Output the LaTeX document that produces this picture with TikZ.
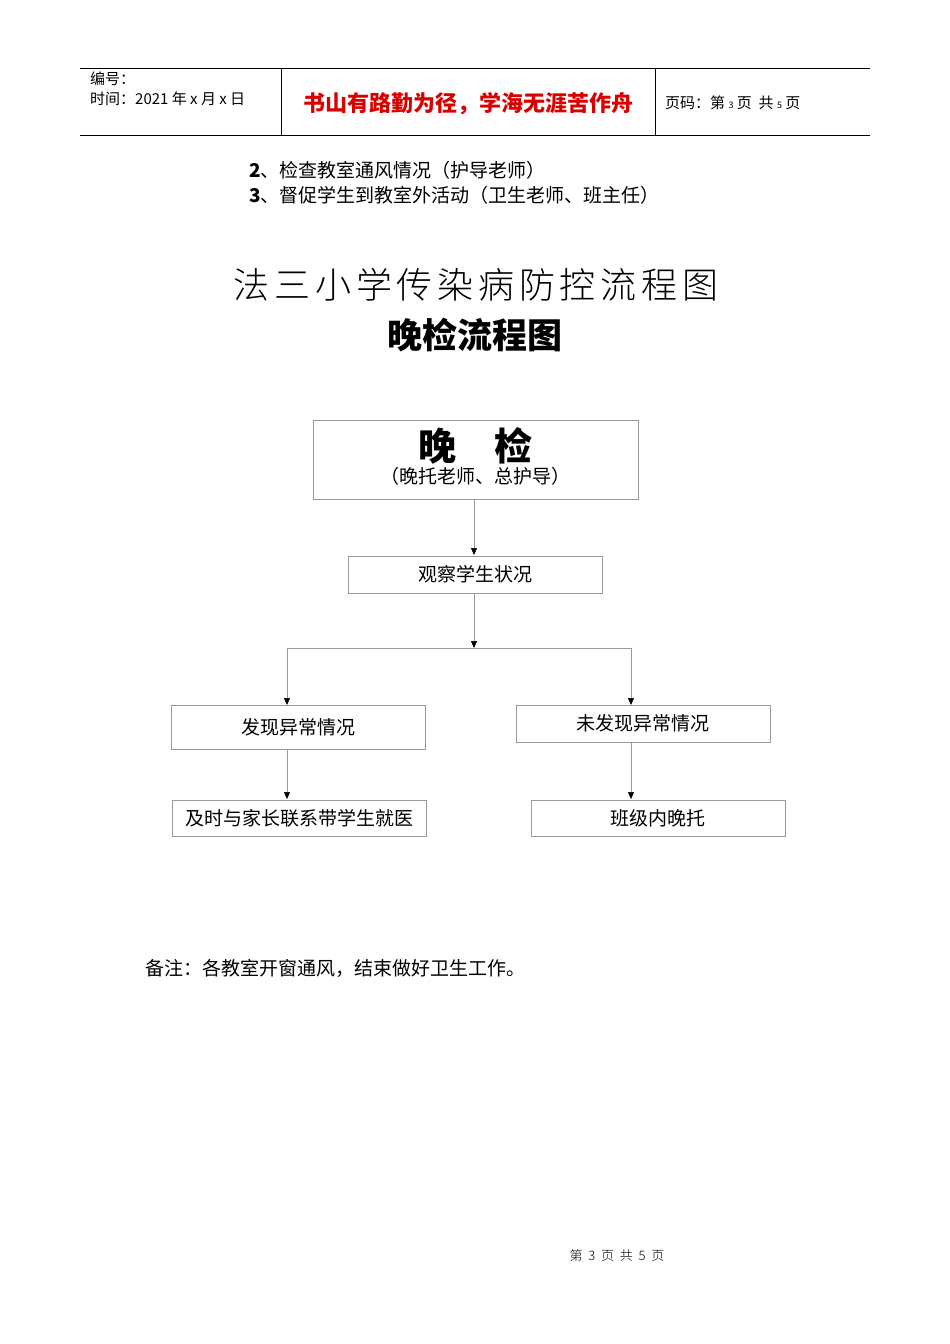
\documentclass[tikz,border=0pt]{standalone}
\usepackage{fontspec}
\setmainfont{Noto Sans CJK SC}
\usetikzlibrary{arrows.meta}
\newcommand\tg{\hspace{4.8pt}}
\begin{document}
\begin{tikzpicture}[x=1pt,y=-1pt,
  box/.style={draw=black!40,line width=0.6pt,inner sep=0pt},
  con/.style={draw=black!40,line width=0.6pt},
  arr/.style={con,-{Triangle[black,length=7pt,width=6pt]}},
  t/.style={font=\fontsize{19}{22}\selectfont,inner sep=0pt}]
\useasboundingbox (0,0) rectangle (950,1344);
% header
\draw[line width=0.6pt] (80,68)--(870,68) (80,135)--(870,135) (281,68)--(281,135) (655,68)--(655,135);
\node[anchor=west,inner sep=0pt,font=\fontsize{15}{17}\selectfont] (h1) at (90,79) {编号：};
\node[anchor=west,inner sep=0pt,font=\fontsize{15}{17}\selectfont] (h2) at (90,99) {时间：2021 年 x 月 x 日};
\node[inner sep=0pt,text=red!85!black,font=\fontsize{22}{25}\selectfont\bfseries] (h3) at (468,104) {书山有路勤为径，学海无涯苦作舟};
\node[anchor=west,inner sep=0pt,font=\fontsize{15}{17}\selectfont] (h4) at (665,103) {页码：第 {\small 3} 页 \ 共 {\small 5} 页};
\node[anchor=west,t] (l2) at (249,170) {\textbf{2}、检查教室通风情况（护导老师）};
\node[anchor=west,t] (l3) at (249,195) {\textbf{3}、督促学生到教室外活动（卫生老师、班主任）};
\node[inner sep=0pt,font=\fontsize{36}{40}\selectfont] (title) at (476,285) {\fontspec{Noto Sans CJK SC Light}法\tg 三\tg 小\tg 学\tg 传\tg 染\tg 病\tg 防\tg 控\tg 流\tg 程\tg 图};
\node[inner sep=0pt,font=\fontsize{35}{38}\selectfont\bfseries] (sub) at (475,335) {晚检流程图};
% boxes
\node[box,minimum width=325pt,minimum height=79pt] (b1) at (475.5,459.5) {};
\node[inner sep=0pt,font=\fontsize{38}{42}\selectfont\bfseries] (b1t) at (475,446) {晚\quad 检};
\node[t] (b1s) at (475,476) {（晚托老师、总护导）};
\node[box,minimum width=254pt,minimum height=37pt,t] (b2) at (475,574.5) {观察学生状况};
\node[box,minimum width=254pt,minimum height=44pt,t] (b3) at (298,727) {发现异常情况};
\node[box,minimum width=254pt,minimum height=37pt,t] (b4) at (643,723.5) {未发现异常情况};
\node[box,minimum width=254pt,minimum height=36pt,t] (b5) at (299,818) {及时与家长联系带学生就医};
\node[box,minimum width=254pt,minimum height=36pt,t] (b6) at (658,818) {班级内晚托};
\coordinate (j) at (474,648);
\draw[arr] (474,499) -- (474,555);
\draw[arr] (474,593) -- (j);
\draw[con] (287,648) -- (631,648);
\draw[arr] (287,648) -- (287,705);
\draw[arr] (631,648) -- (631,705);
\draw[arr] (287,749) -- (287,799);
\draw[arr] (631,742) -- (631,799);
\node[anchor=west,t] (note) at (145,968) {备注：各教室开窗通风，结束做好卫生工作。};
\node[inner sep=0pt,font=\fontsize{13}{15}\selectfont] (foot) at (617,1256) {\fontspec{Noto Sans CJK SC Light}第 \ 3 \ 页 \ 共 \ 5 \ 页};
\end{tikzpicture}
\end{document}
